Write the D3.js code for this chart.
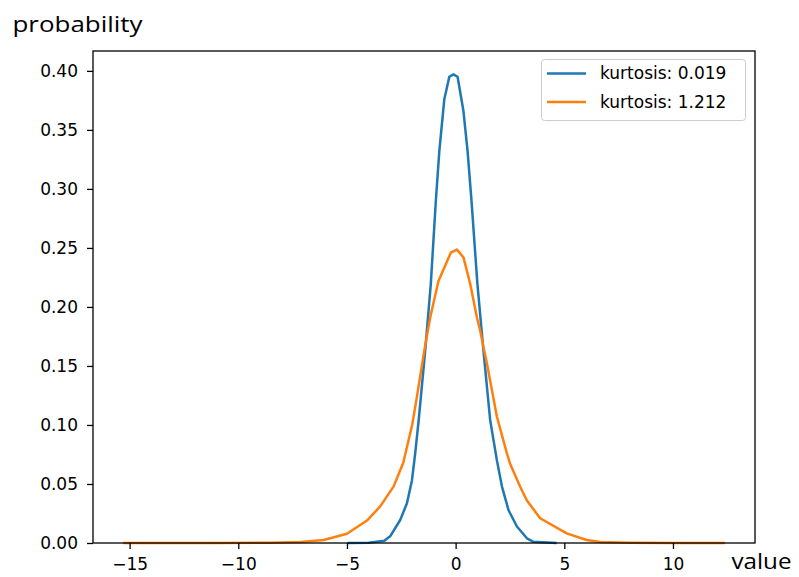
<!DOCTYPE html>
<html>
<head>
<meta charset="utf-8">
<script src="https://cdn.jsdelivr.net/npm/d3@7"></script>
<style>
    body { margin: 0; background: #fff; }
    svg text { font-family: "DejaVu Sans"; }
</style>
</head>
<body>
<div id="kde-chart"></div>
<script>
// values
const seriesNames = ["kurtosis: 0.019", "kurtosis: 1.212"];
const seriesColors = ["#1f77b4", "#ff7f0e"];

const normalX = [-4.97, -4.0, -3.28, -3.0, -2.55, -2.24, -2.01, -1.86, -1.70, -1.40, -1.14, -0.91, -0.75, -0.52, -0.29, -0.10, 0.09, 0.36, 0.55, 0.73, 1.0, 1.28, 1.59, 1.90, 2.13, 2.43, 2.82, 3.28, 3.58, 4.65];
const normalY = [0.0, 0.0002, 0.002, 0.006, 0.0195, 0.0336, 0.053, 0.076, 0.104, 0.163, 0.220, 0.290, 0.332, 0.376, 0.395, 0.397, 0.395, 0.366, 0.332, 0.290, 0.220, 0.163, 0.104, 0.070, 0.048, 0.028, 0.014, 0.004, 0.001, 0.0];

const heavyX = [-15.3, -11.0, -8.5, -7.14, -6.07, -5.0, -4.08, -3.47, -2.85, -2.41, -2.0, -1.78, -1.44, -1.17, -0.79, -0.22, 0.06, 0.36, 0.67, 0.98, 1.13, 1.28, 1.44, 1.90, 2.36, 2.51, 2.97, 3.28, 3.89, 5.11, 6.03, 6.65, 8.0, 10.0, 12.39];
const heavyY = [0.0, 0.0, 0.0002, 0.0008, 0.0025, 0.0078, 0.019, 0.031, 0.048, 0.068, 0.100, 0.124, 0.163, 0.191, 0.222, 0.246, 0.2486, 0.242, 0.2196, 0.191, 0.180, 0.166, 0.152, 0.107, 0.076, 0.067, 0.0476, 0.036, 0.021, 0.0082, 0.0025, 0.0008, 0.0002, 0.0, 0.0];

const xTicks = [-15, -10, -5, 0, 5, 10];
const yTicks = [0, 0.05, 0.10, 0.15, 0.20, 0.25, 0.30, 0.35, 0.40];

const config = {
    width: 799,
    height: 577,
    left: 93,
    right: 755,
    top: 51,
    bottom: 543,
    fontSize: 17,
};

const series = [
    { name: seriesNames[0], color: seriesColors[0], points: normalX.map((v, i) => [v, normalY[i]]) },
    { name: seriesNames[1], color: seriesColors[1], points: heavyX.map((v, i) => [v, heavyY[i]]) },
];

const svg = d3.select('#kde-chart')
    .append('svg')
    .attr('width', config.width)
    .attr('height', config.height)
;

// matplotlib style 5% margins on x, y starts at zero
const allX = normalX.concat(heavyX);
const xLo = d3.min(allX), xHi = d3.max(allX);
const pad = (xHi - xLo) * 0.05;
const x = d3.scaleLinear()
    .domain([xLo - pad, xHi + pad])
    .range([config.left, config.right])
;
const y = d3.scaleLinear()
    .domain([0, d3.max(normalY.concat(heavyY)) * 1.05])
    .range([config.bottom, config.top])
;

const line = d3.line()
    .x(d => x(d[0]))
    .y(d => y(d[1]))
;

svg.append('g')
    .attr('id', 'curves')
    .selectAll('path')
    .data(series)
    .join('path')
    .attr('fill', 'none')
    .attr('stroke', d => d.color)
    .attr('stroke-width', 2.5)
    .attr('stroke-linejoin', 'round')
    .attr('d', d => line(d.points))
;

const xAxis = svg.append('g')
    .attr('transform', `translate(0,${config.bottom})`)
    .call(d3.axisBottom(x).tickValues(xTicks).tickSize(6).tickPadding(9).tickFormat(d3.format('d')))
;
const yAxis = svg.append('g')
    .attr('transform', `translate(${config.left},0)`)
    .call(d3.axisLeft(y).tickValues(yTicks).tickSize(6).tickPadding(9).tickFormat(d3.format('.2f')))
;
for (const ax of [xAxis, yAxis]) {
    ax.select('.domain').remove();
    ax.attr('font-family', null).attr('font-size', null);
    ax.selectAll('line').attr('stroke', '#000').attr('stroke-width', 1.3);
    ax.selectAll('text').attr('fill', '#000').style('font-size', config.fontSize + 'px');
}

// spines
svg.append('rect')
    .attr('x', config.left)
    .attr('y', config.top)
    .attr('width', config.right - config.left)
    .attr('height', config.bottom - config.top)
    .attr('fill', 'none')
    .attr('stroke', '#000')
    .attr('stroke-width', 1.3)
;

// legend
const legend = svg.append('g').attr('id', 'legend');
legend.append('rect')
    .attr('x', 541.5)
    .attr('y', 59.5)
    .attr('width', 204)
    .attr('height', 61)
    .attr('rx', 3)
    .attr('fill', '#fff')
    .attr('fill-opacity', 0.8)
    .attr('stroke', '#ccc')
;
const item = legend.selectAll('g.item')
    .data(series)
    .join('g')
    .attr('class', 'item')
    .attr('transform', (d, i) => `translate(547,${73.5 + i * 28.4})`)
;
item.append('line')
    .attr('x2', 39)
    .attr('stroke', d => d.color)
    .attr('stroke-width', 2.5)
;
item.append('text')
    .attr('x', 53)
    .attr('dy', '0.35em')
    .style('font-size', config.fontSize + 'px')
    .attr('fill', '#000')
    .text(d => d.name)
;

// axis titles in the corners
svg.append('text')
    .attr('x', 12.5)
    .attr('y', 31.5)
    .style('font-family', '"Open Sans"')
    .style('font-size', '22px')
    .attr('fill', '#000')
    .attr('textLength', 130)
    .attr('lengthAdjust', 'spacingAndGlyphs')
    .text('probability')
;
svg.append('text')
    .attr('x', 731.5)
    .attr('y', 568.5)
    .style('font-family', '"Open Sans"')
    .style('font-size', '22px')
    .attr('fill', '#000')
    .attr('textLength', 60)
    .attr('lengthAdjust', 'spacingAndGlyphs')
    .text('value')
;
</script>
</body>
</html>
